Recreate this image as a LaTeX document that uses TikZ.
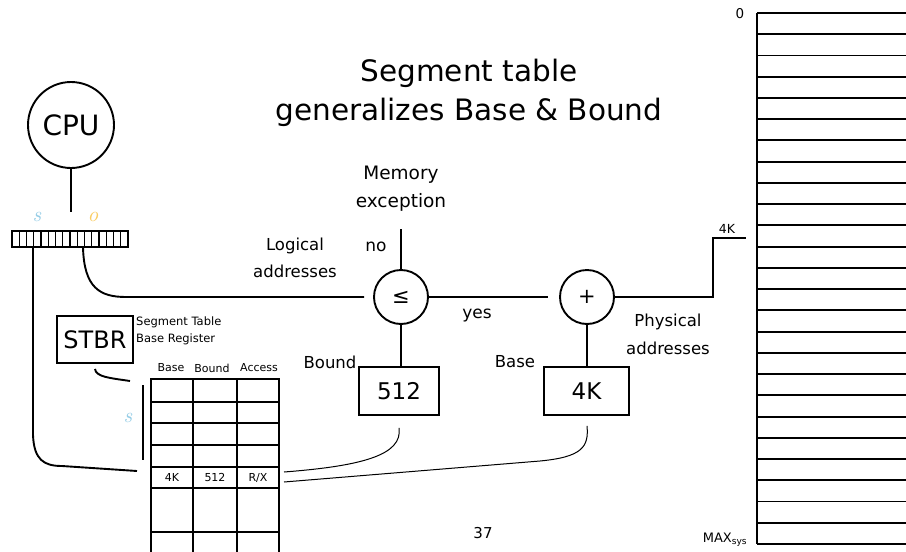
\documentclass[tikz,border=0pt]{standalone}
\usepackage{fontspec}
\setmainfont{DejaVu Sans}
\newfontfamily\lmit{lmroman10-italic.otf}
\newcommand\myfs[2]{\fontsize{#1}{#2}\selectfont}
\definecolor{slight}{RGB}{150,205,230}
\definecolor{olight}{RGB}{250,205,100}
\begin{document}
\begin{tikzpicture}[x=1pt,y=-1pt,
  main/.style={line width=1.9pt},
  thinl/.style={line width=1pt},
  txt/.style={inner sep=0pt, align=center},
  circ/.style={circle, draw, line width=1.9pt, inner sep=0pt},
  boxn/.style={draw, line width=1.9pt, inner sep=0pt}]
\useasboundingbox (0,0) rectangle (906,552);
\clip (0,0) rectangle (906,552);

% title
\node[txt, font=\myfs{29.5}{39}] (title) at (469,93) {Segment table\\generalizes Base \& Bound};

% CPU and register
\node[circ, minimum size=86pt, font=\myfs{28}{30}] (cpu) at (71,125) {CPU};
\node[draw, line width=1.2pt, minimum width=116pt, minimum height=16pt, inner sep=0pt] (reg) at (70,239) {};
\foreach \i in {1,...,15} \draw[line width=1.2pt] (12+\i*7.25,231) -- (12+\i*7.25,247);
\coordinate (cpuend) at (71,212);
\draw[main] (cpu.south) -- (cpuend);
\node[txt, text=slight, font=\lmit\myfs{21}{21}] (slab) at (37,217) {s};
\node[txt, text=olight, font=\lmit\myfs{21}{21}] (olab) at (93,217) {o};

% comparator and adder
\node[circ, minimum size=54pt, font=\myfs{21}{21}] (le) at (401,297) {≤};
\node[circ, minimum size=54pt, font=\myfs{21}{21}] (pl) at (587,297) {+};
\coordinate (sstart) at (33,247);
\coordinate (ostart) at (83,247);
\coordinate (lein) at (364,297);
\draw[main] (ostart) .. controls (84,288) and (100,297) .. (126,297) -- (lein);
\draw[main] (le.east) -- ([xshift=-11pt]pl.west);
\coordinate (memex) at (401,229);
\draw[main] (le.north) -- (memex);
\coordinate (k4) at (746,238);
\draw[main] (pl.east) -- (713,297) -- (713,238) -- (k4);

% boxes
\node[boxn, minimum width=80pt, minimum height=48pt, font=\myfs{23}{23}] (bnd) at (399,391) {512};
\node[boxn, minimum width=85pt, minimum height=48pt, font=\myfs{23}{23}] (bas) at (586.5,391) {4K};
\draw[main] (le.south) -- (bnd.north -| le.south);
\draw[main] (pl.south) -- (bas.north -| pl.south);

% labels
\node[txt, font=\myfs{18.5}{28}] (memexl) at (401,189) {Memory\\exception};
\node[txt, font=\myfs{17}{17}] (nol) at (376,247) {no};
\node[txt, font=\myfs{17}{17}] (yesl) at (477,316) {yes};
\node[txt, font=\myfs{16.5}{27}] (logl) at (295,258) {Logical\\addresses};
\node[txt, font=\myfs{16.5}{28}] (phyl) at (668,334) {Physical\\addresses};
\node[txt, font=\myfs{16.5}{16.5}] (bndl) at (330,362) {Bound};
\node[txt, font=\myfs{16.5}{16.5}] (basl) at (515,362) {Base};

% STBR
\node[boxn, minimum width=76pt, minimum height=47pt, font=\myfs{24}{24}] (stbr) at (95,339.5) {STBR};
\node[txt, align=left, anchor=west, font=\myfs{11.5}{17}] (stbrl) at (136,331) {Segment Table\\Base Register};
\coordinate (stbrend) at (130,381);
\draw[main] ([yshift=-5pt]stbr.south) .. controls (96,377) and (110,378) .. (stbrend);

% segment table
\draw[main] (151,379) rectangle (279,570);
\foreach \y in {402,423,445,467,488,532} \draw[main] (151,\y) -- (279,\y);
\foreach \x in {193,237} \draw[main] (\x,379) -- (\x,570);
\node[txt, font=\myfs{11}{11}] (hbase) at (171,368) {Base};
\node[txt, font=\myfs{11}{11}] (hbound) at (212,368) {Bound};
\node[txt, font=\myfs{11}{11}] (hacc) at (259,368) {Access};
\node[txt, font=\myfs{11}{11}] (r1) at (172,477.5) {4K};
\node[txt, font=\myfs{11}{11}] (r2) at (215,477.5) {512};
\node[txt, font=\myfs{11}{11}] (r3) at (258,477.5) {R/X};
\draw[line width=1.2pt] (143,385) -- (143,460);
\node[txt, text=slight, font=\lmit\myfs{21}{21}] (slab2) at (128,418) {s};

% connectors to table
\coordinate (srow) at (137,471);
\draw[main] (sstart) -- (33,435) .. controls (34,460) and (44,466) .. (62,466) -- (srow);
\coordinate (rx1) at (284,472);
\coordinate (rx2) at (284,482);
\draw[thinl] (rx1) .. controls (362,466) and (403,455) .. ([yshift=-12pt]bnd.south);
\draw[thinl] (rx2) -- (540,461) .. controls (582,457) and (589,447) .. ([yshift=-10pt]bas.south -| pl.south);

% memory
\draw[main] (757,13) -- (757,544);
\foreach \i in {0,...,25} \draw[main] (757,13+\i*21.24) -- (910,13+\i*21.24);
\node[txt, font=\myfs{13.5}{13.5}] (m0) at (740,14) {0};
\node[txt, font=\myfs{12.5}{12.5}] (m4k) at (727,229) {4K};
\node[txt, font=\myfs{13}{13}] (mmax) at (725,540) {MAX\textsubscript{sys}};
\node[txt, font=\myfs{15}{15}] (pg) at (483,533) {37};
\end{tikzpicture}
\end{document}
